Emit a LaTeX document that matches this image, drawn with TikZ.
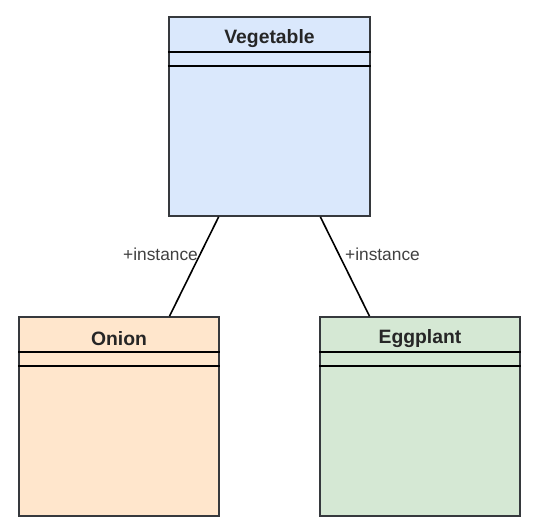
\documentclass[tikz,border=0pt]{standalone}
\usepackage{fontspec}
\setmainfont{Liberation Sans}
\usetikzlibrary{positioning, calc}
\definecolor{vegfill}{HTML}{DAE8FC}
\definecolor{onionfill}{HTML}{FFE6CC}
\definecolor{eggfill}{HTML}{D5E8D4}
\definecolor{umlstroke}{HTML}{36393D}
\tikzset{
  umlclass/.style={draw=umlstroke, line width=1.5pt, minimum width=150pt, minimum height=149pt, inner sep=0pt},
  umltitle/.style={font=\fontsize{14.5}{16}\selectfont\bfseries, text=black!85},
  umlrole/.style={font=\fontsize{13}{15}\selectfont, text=black!75, inner sep=1pt}
}
\begin{document}
\begin{tikzpicture}[x=0.75pt, y=-0.75pt]
      \useasboundingbox (0,0) rectangle (535,531);

      % CLASSES
      \node[umlclass, fill=vegfill, minimum width=151pt] (veg) at (269.5,116.5) {};
      \node[umlclass, fill=onionfill] (onion) at (119,416.5) {};
      \node[umlclass, fill=eggfill] (egg) at (420,416.5) {};

      % compartments
      \foreach \c/\t in {veg/Vegetable, onion/Onion, egg/Eggplant}{
        \draw[line width=1.5pt] ($(\c.north west)+(0,36)$) -- ($(\c.north east)+(0,36)$);
        \draw[line width=1.5pt] ($(\c.north west)+(0,50)$) -- ($(\c.north east)+(0,50)$);
        \node[umltitle] (\c-title) at ($(\c.north)+(0,22)$) {\t};
      }

      % ASSOCIATIONS
      \draw[line width=1.2pt] ($(veg.south west)!0.25!(veg.south east)$) -- ($(onion.north west)!0.75!(onion.north east)$)
        node[umlrole, pos=0.38, left] (role-onion) {+instance};
      \draw[line width=1.2pt] ($(veg.south west)!0.75!(veg.south east)$) -- ($(egg.north west)!0.25!(egg.north east)$)
        node[umlrole, pos=0.38, right=3pt] (role-egg) {+instance};
\end{tikzpicture}
\end{document}
